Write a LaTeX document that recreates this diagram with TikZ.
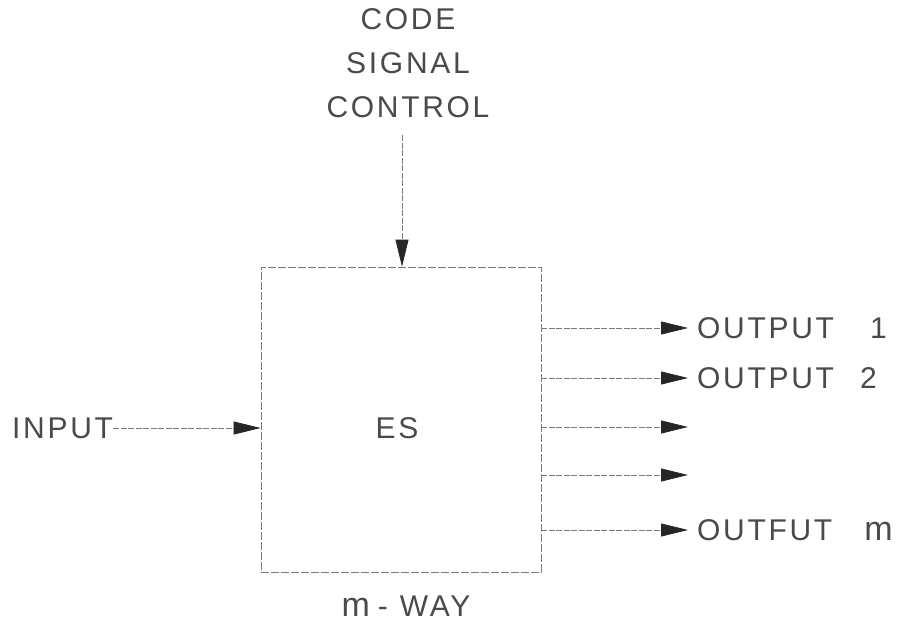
\documentclass[tikz,border=0pt]{standalone}
\usepackage{fontspec}
\setmainfont{Liberation Sans}[LetterSpace=9]
\usetikzlibrary{arrows.meta}
\definecolor{ink}{HTML}{4A4A4A}
\definecolor{lin}{HTML}{7A7A7A}
\begin{document}
\begin{tikzpicture}[x=1pt,y=-1pt,
  lbl/.style={font=\fontsize{30}{33}\selectfont, text=ink, inner sep=0pt},
  conn/.style={draw=lin, line width=0.8pt, dash pattern=on 6pt off 1.5pt,
    -{Triangle[length=27pt,width=13pt,color=black!85,fill=black!85]}},
  boxst/.style={draw=lin, line width=0.8pt, dash pattern=on 8pt off 2pt, minimum width=280pt, minimum height=305pt, inner sep=0pt}]
\useasboundingbox (0,0) rectangle (919,624);
\node[boxst] (es) at (401,419.5) {};
\node[lbl] (estxt) at (397,428) {ES};
\node[lbl, align=center, font=\fontsize{30}{44}\selectfont] (code) at (408,63) {CODE\\SIGNAL\\CONTROL};
\coordinate (ctop) at (402,135);
\draw[conn] (ctop) -- (es.north -| ctop);
\node[lbl, anchor=west] (inp) at (12,428) {INPUT};
\draw[conn] (inp.east) -- (es.west |- inp.east);
\coordinate (o1) at (688,328);
\coordinate (o2) at (688,378);
\coordinate (o3) at (688,427);
\coordinate (o4) at (688,475);
\coordinate (o5) at (688,530);
\foreach \o in {o1,o2,o3,o4,o5} \draw[conn] (es.east |- \o) -- (\o);
\node[lbl, anchor=west] (t1) at (697,328) {OUTPUT\hspace{36pt}1};
\node[lbl, anchor=west] (t2) at (697,378) {OUTPUT\hspace{26pt}2};
\node[lbl, anchor=west] (tm) at (697,530) {OUTFUT\hspace{32pt}\addfontfeatures{LetterSpace=0}\fontsize{34}{36}\selectfont m};
\node[lbl] (way) at (406,606) {{\fontsize{34}{36}\selectfont m}\hspace{8pt}-\hspace{12pt}WAY};
\end{tikzpicture}
\end{document}
